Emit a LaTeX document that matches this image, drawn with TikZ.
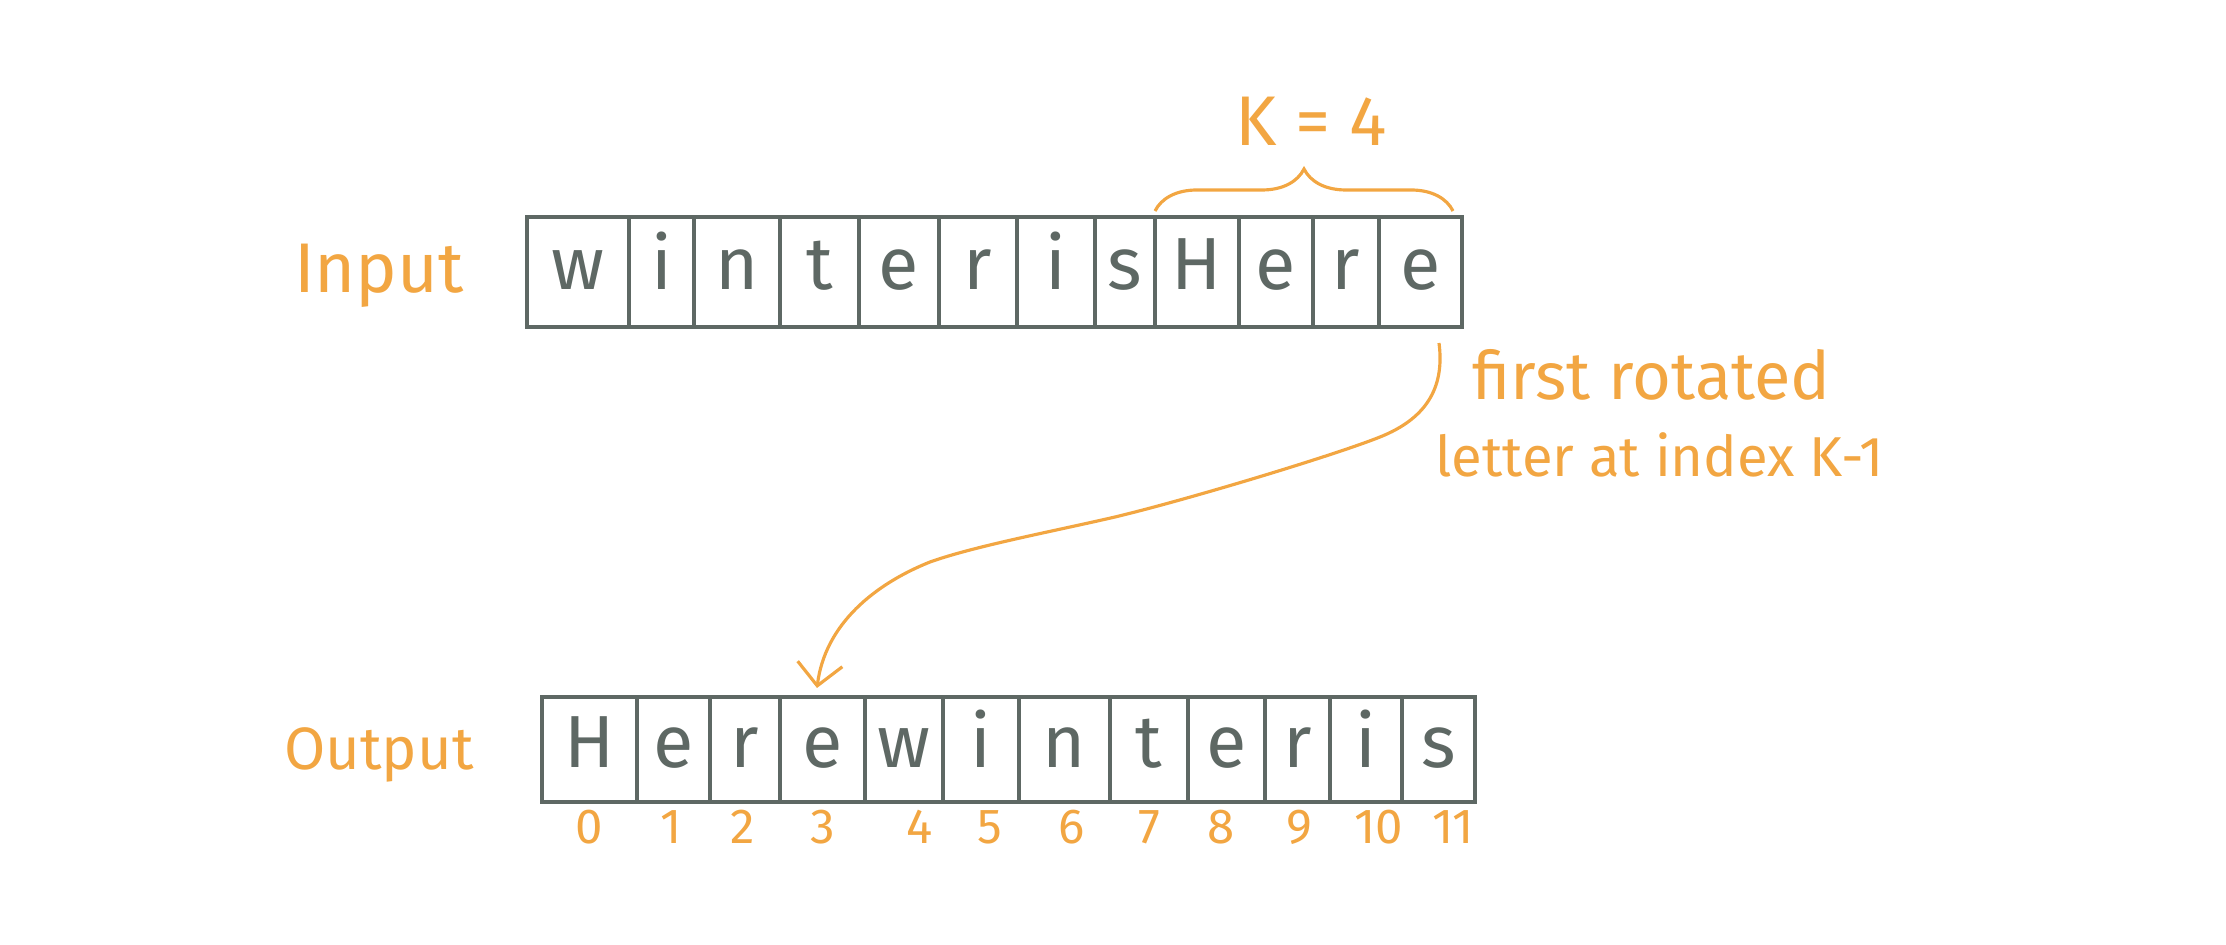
\documentclass[tikz,border=0pt]{standalone}
\usepackage{fontspec}
\setmainfont{Fira Sans}
\usetikzlibrary{decorations.pathreplacing,arrows.meta}
\definecolor{boxgrey}{RGB}{94,104,100}
\definecolor{pen}{RGB}{242,166,66}

\begin{document}
\begin{tikzpicture}[
  letter/.style={text=boxgrey,font=\fontsize{21}{24}\selectfont,anchor=base},
  idx/.style={text=pen,font=\fontsize{14}{16}\selectfont,anchor=base},
  side/.style={text=pen,font=\fontsize{20}{24}\selectfont,anchor=base},
  note/.style={text=pen,font=\fontsize{16}{19}\selectfont,anchor=base west},
  frame/.style={draw=boxgrey,line width=1.4pt},
  wall/.style={draw=boxgrey,line width=0.9pt},
  >={Straight Barb[length=2.2mm,width=4.5mm]}
]
\useasboundingbox (0,0) rectangle (22.26,9.44);

% labels
\node[side] (inlabel) at (3.79,6.51) {Input};
\node[side,font=\fontsize{17}{20}\selectfont] (outlabel) at (3.79,1.74) {Output};

% input box
\draw[frame] (5.27,6.17) rectangle (14.62,7.27);
\draw[wall] (6.29,6.17) -- (6.29,7.27);
\draw[wall] (6.94,6.17) -- (6.94,7.27);
\draw[wall] (7.80,6.17) -- (7.80,7.27);
\draw[wall] (8.59,6.17) -- (8.59,7.27);
\draw[wall] (9.39,6.17) -- (9.39,7.27);
\draw[wall] (10.17,6.17) -- (10.17,7.27);
\draw[wall] (10.95,6.17) -- (10.95,7.27);
\draw[wall] (11.55,6.17) -- (11.55,7.27);
\draw[wall] (12.39,6.17) -- (12.39,7.27);
\draw[wall] (13.13,6.17) -- (13.13,7.27);
\draw[wall] (13.79,6.17) -- (13.79,7.27);

% input letters
\node[letter] (in0) at (5.78,6.54) {w};
\node[letter] (in1) at (6.615,6.54) {i};
\node[letter] (in2) at (7.37,6.54) {n};
\node[letter] (in3) at (8.195,6.54) {t};
\node[letter] (in4) at (8.99,6.54) {e};
\node[letter] (in5) at (9.78,6.54) {r};
\node[letter] (in6) at (10.56,6.54) {i};
\node[letter] (in7) at (11.25,6.54) {s};
\node[letter] (in8) at (11.97,6.54) {H};
\node[letter] (in9) at (12.76,6.54) {e};
\node[letter] (in10) at (13.46,6.54) {r};
\node[letter] (in11) at (14.205,6.54) {e};

% output box
\draw[frame] (5.42,1.42) rectangle (14.75,2.47);
\draw[wall] (6.37,1.42) -- (6.37,2.47);
\draw[wall] (7.10,1.42) -- (7.10,2.47);
\draw[wall] (7.80,1.42) -- (7.80,2.47);
\draw[wall] (8.65,1.42) -- (8.65,2.47);
\draw[wall] (9.43,1.42) -- (9.43,2.47);
\draw[wall] (10.19,1.42) -- (10.19,2.47);
\draw[wall] (11.10,1.42) -- (11.10,2.47);
\draw[wall] (11.88,1.42) -- (11.88,2.47);
\draw[wall] (12.65,1.42) -- (12.65,2.47);
\draw[wall] (13.30,1.42) -- (13.30,2.47);
\draw[wall] (14.02,1.42) -- (14.02,2.47);

% output letters
\node[letter] (out0) at (5.895,1.76) {H};
\node[letter] (out1) at (6.735,1.76) {e};
\node[letter] (out2) at (7.45,1.76) {r};
\node[letter] (out3) at (8.225,1.76) {e};
\node[letter] (out4) at (9.04,1.76) {w};
\node[letter] (out5) at (9.81,1.76) {i};
\node[letter] (out6) at (10.645,1.76) {n};
\node[letter] (out7) at (11.49,1.76) {t};
\node[letter] (out8) at (12.265,1.76) {e};
\node[letter] (out9) at (12.975,1.76) {r};
\node[letter] (out10) at (13.66,1.76) {i};
\node[letter] (out11) at (14.385,1.76) {s};

% numbers
\node[idx] (idx0) at (5.89,1.01) {0};
\node[idx] (idx1) at (6.71,1.01) {1};
\node[idx] (idx2) at (7.43,1.01) {2};
\node[idx] (idx3) at (8.23,1.01) {3};
\node[idx] (idx4) at (9.20,1.01) {4};
\node[idx] (idx5) at (9.90,1.01) {5};
\node[idx] (idx6) at (10.72,1.01) {6};
\node[idx] (idx7) at (11.49,1.01) {7};
\node[idx] (idx8) at (12.21,1.01) {8};
\node[idx] (idx9) at (12.99,1.01) {9};
\node[idx] (idx10) at (13.79,1.01) {10};
\node[idx] (idx11) at (14.53,1.01) {11};

% brace over the last four
\draw[pen,line width=0.9pt,decorate,decoration={brace,amplitude=0.42cm}]
  (11.55,7.33) -- (14.53,7.33);
\node[side] (k) at (13.11,7.98) {K = 4};

% arrow and note
\coordinate (from) at (14.39,6.01);
\coordinate (to) at (8.17,2.56);
\draw[->,pen,line width=0.9pt] (from)
  .. controls (14.45,5.55) and (14.25,5.25) .. (13.80,5.07)
  .. controls (13.35,4.89) and (11.9,4.45) .. (11.15,4.27)
  .. controls (10.5,4.12) and (9.75,3.98) .. (9.3,3.82)
  .. controls (8.75,3.6) and (8.25,3.2) .. (to);
\node[note,font=\fontsize{19}{22}\selectfont] (note1) at (14.60,5.44) {first rotated};
\node[note] (note2) at (14.23,4.67) {letter at index K-1};

\end{tikzpicture}
\end{document}
